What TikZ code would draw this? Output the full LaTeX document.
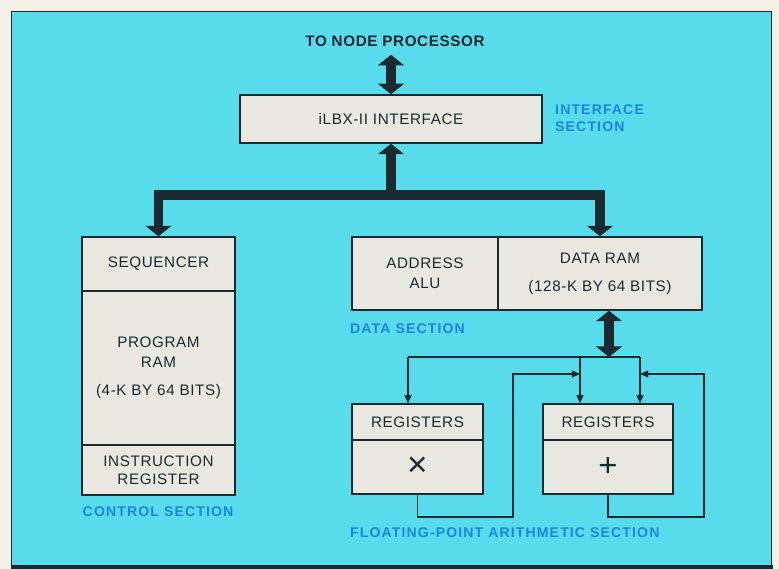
\documentclass[tikz,border=0pt]{standalone}
\usepackage{fontspec}
\setmainfont{Liberation Sans}
\newfontfamily\boxfam[LetterSpace=4]{Liberation Sans}
\newfontfamily\secfam[LetterSpace=8]{Liberation Sans}
\usetikzlibrary{arrows.meta}
\usepackage{xcolor}
\definecolor{PageWhite}{HTML}{F3F1E6}
\definecolor{PanelCyan}{HTML}{58DCEB}
\definecolor{BoxFill}{HTML}{E9E8E0}
\definecolor{InkBlack}{HTML}{1B2A30}
\definecolor{LabelBlue}{HTML}{1A86E0}
\tikzset{
    % Box styles - all sharp corners
    unit/.style={
        rectangle,
        draw=InkBlack,
        fill=BoxFill,
        line width=1.2pt,
        inner sep=0pt,
        align=center,
        text=InkBlack,
        font={\boxfam\fontsize{13}{17}\selectfont}
    },
    section/.style={
        inner sep=0pt,
        align=left,
        text=LabelBlue,
        font={\secfam\bfseries\fontsize{12}{14}\selectfont}
    },
    % Arrow styles
    bus/.style={
        -{Triangle[width=22pt,length=9pt]},
        line width=8pt,
        line join=miter,
        draw=InkBlack
    },
    dblbus/.style={
        bus,
        {Triangle[width=22pt,length=9pt]}-{Triangle[width=22pt,length=9pt]}
    },
    wire/.style={
        line width=0.9pt,
        draw=InkBlack
    },
    wirearrow/.style={
        wire,
        -{Triangle[width=6pt,length=7pt]}
    }
}

\begin{document}
\begin{tikzpicture}[x=0.03cm, y=-0.03cm]
    \useasboundingbox (0,0) rectangle (779,569);
    \fill[PageWhite] (0,0) rectangle (779,569);
    \draw[InkBlack, line width=0.6pt, fill=PanelCyan] (11,11) rectangle (771,565);
    \draw[InkBlack, line width=4pt] (11,567) -- (773,567);

    % interface section
    \node[text=InkBlack, inner sep=0pt, font={\boxfam\bfseries\fontsize{13}{14}\selectfont}] (host) at (395,41) {TO NODE PROCESSOR};
    \node[unit, minimum width=9.06cm, minimum height=1.44cm] (iface) at (391,119) {iLBX-II INTERFACE};
    \node[section, anchor=west] (ifsec) at (555,118) {INTERFACE\\SECTION};
    \draw[dblbus, shorten <=7pt] (iface.north |- host.south) -- (iface.north);

    % control section
    \node[unit, minimum width=4.59cm, minimum height=1.62cm] (seq) at (158.5,264) {SEQUENCER};
    \node[unit, minimum width=4.59cm, minimum height=4.62cm] (pram) at (158.5,368) {PROGRAM\\RAM\\[7pt](4-K BY 64 BITS)};
    \node[unit, minimum width=4.59cm, minimum height=1.5cm, font={\boxfam\fontsize{13}{15}\selectfont}] (ireg) at (158.5,470) {INSTRUCTION\\REGISTER};
    \node[section] (ctlsec) at (158,512) {CONTROL SECTION};

    % data section
    \node[unit, minimum width=4.38cm, minimum height=2.19cm] (alu) at (425,273.5) {ADDRESS\\ALU};
    \node[unit, minimum width=6.12cm, minimum height=2.19cm] (dram) at (600,273.5) {DATA RAM\\[7pt](128-K BY 64 BITS)};
    \node[section, anchor=west] (datasec) at (350,329) {DATA SECTION};

    % main bus
    \coordinate (junc) at (391,195);
    \draw[bus] (junc) -- (iface.south);
    \draw[dblbus] (seq.north) |- (junc) -| (dram.north);

    % floating-point section
    \node[unit, minimum width=3.93cm, minimum height=1.08cm] (rega) at (417.5,422) {REGISTERS};
    \node[unit, minimum width=3.93cm, minimum height=1.62cm, font={\fontsize{30}{30}\selectfont}] (mulop) at (417.5,467) {×};
    \node[unit, minimum width=3.9cm, minimum height=1.08cm] (regb) at (608,422) {REGISTERS};
    \node[unit, minimum width=3.9cm, minimum height=1.62cm, font={\fontsize{28}{28}\selectfont}] (addop) at (608,467) {+};
    \node[section, anchor=west] (fpsec) at (350,533) {FLOATING-POINT ARITHMETIC SECTION};

    \coordinate (fan) at (609,357);
    \coordinate (fanL) at (408,357);
    \coordinate (fanM) at (580,357);
    \coordinate (fanR) at (640,357);
    \coordinate (loopA) at (513,517);
    \coordinate (loopB) at (704,517);
    \coordinate (joinA) at (580,374);
    \coordinate (joinB) at (640,374);

    \draw[dblbus] (dram.south -| fan) -- (fan);
    \draw[wire] (fanL) -- (fanR);
    \draw[wirearrow] (fanL) -- (fanL |- rega.north);
    \draw[wirearrow] (fanM) -- (fanM |- regb.north);
    \draw[wirearrow] (fanR) -- (fanR |- regb.north);
    \draw[wirearrow] (mulop.south) |- (loopA) |- (joinA);
    \draw[wirearrow] (addop.south) |- (loopB) |- (joinB);
\end{tikzpicture}
\end{document}
